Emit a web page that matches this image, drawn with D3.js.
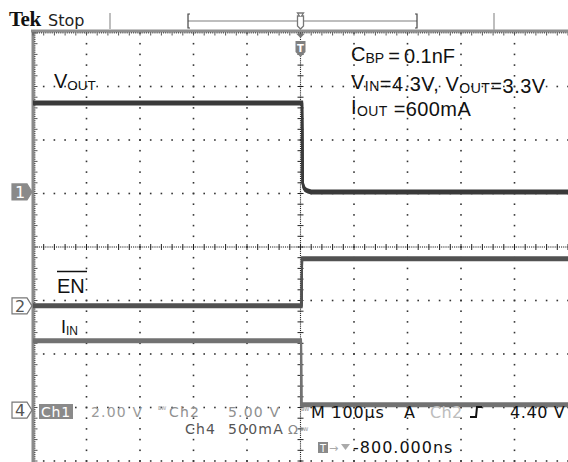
<!DOCTYPE html>
<html>
<head>
<meta charset="utf-8">
<script src="https://cdn.jsdelivr.net/npm/d3@7"></script>
<style>
  body { margin: 0; background: #fff; }
  svg { display: block; }
</style>
</head>
<body>
<script>
'use strict';

// scope settings (per division)
const timePerDiv = 100;        // µs
const ch1VoltsPerDiv = 2.0;    // V
const ch2VoltsPerDiv = 5.0;    // V
const ch4AmpsPerDiv = 0.5;     // A

// channel ground offsets in divisions from centre
const ch1Offset = 1.03;
const ch2Offset = -1.10;
const ch4Offset = -2.95;

// traces, time in µs
const voutTime = [-500, 3, 4, 6, 9, 14, 20, 500];
const voutVolts = [3.32, 3.32, 0.34, 0.17, 0.08, 0.03, 0, 0];

const enTime = [-500, 2, 3, 500];
const enVolts = [0, 0, 4.4, 4.4];

const iinTime = [-500, 1, 1.5, 500];
const iinAmps = [0.6, 0.6, 0, 0];

// annotation text: [text, isSubscript]
const noteLines = [
  [['C', 0], ['BP', 1], [' = 0.1nF', 0]],
  [['V', 0], ['IN', 1], ['=4.3V, V', 0], ['OUT', 1], ['=3.3V', 0]],
  [['I', 0], ['OUT', 1], [' =600mA', 0]]
];

(function() {
  const W = 568, H = 462;
  const X0 = 33, Y0 = 33, DIV = 53.5, NX = 10, NY = 8;

  const svg = d3.select('body').append('svg')
    .attr('width', W)
    .attr('height', H)
    .style('background', '#fff');

  const x = d3.scaleLinear()
    .domain([-NX / 2 * timePerDiv, NX / 2 * timePerDiv])
    .range([X0, X0 + NX * DIV]);

  // vertical position in divisions
  const yDiv = d3.scaleLinear()
    .domain([NY / 2, -NY / 2])
    .range([Y0, Y0 + NY * DIV]);

  const xDivPos = d => X0 + d * DIV;

  // ---------- graticule ----------
  const grid = svg.append('g');
  const dot = (cx, cy, s, c) => grid.append('rect')
    .attr('x', cx - s / 2).attr('y', cy - s / 2)
    .attr('width', s).attr('height', s).attr('fill', c);

  // ordinary dotted lines
  d3.range(1, NX).filter(i => i !== NX / 2).forEach(i => {
    d3.range(0, NY * 5 + 1).forEach(k => dot(xDivPos(i), Y0 + k * DIV / 5, 1.6, '#333'));
  });
  d3.range(1, NY + 1).filter(j => j !== NY / 2).forEach(j => {
    d3.range(0, NX * 5 + 1).forEach(k => dot(X0 + k * DIV / 5, Y0 + j * DIV, 1.6, '#333'));
  });

  // centre cross: dense dots + minor ticks
  const cx0 = xDivPos(NX / 2), cy0 = yDiv(0);
  d3.range(0, NX * 25 + 1).forEach(k => dot(X0 + k * DIV / 25, cy0, 1.1, '#222'));
  d3.range(0, NY * 25 + 1).forEach(k => dot(cx0, Y0 + k * DIV / 25, 1.1, '#222'));
  d3.range(0, NX * 5 + 1).forEach(k => grid.append('line')
    .attr('x1', X0 + k * DIV / 5).attr('x2', X0 + k * DIV / 5)
    .attr('y1', cy0 - 3).attr('y2', cy0 + 3)
    .attr('stroke', '#222').attr('stroke-width', 1));
  d3.range(0, NY * 5 + 1).forEach(k => grid.append('line')
    .attr('x1', cx0 - 3).attr('x2', cx0 + 3)
    .attr('y1', Y0 + k * DIV / 5).attr('y2', Y0 + k * DIV / 5)
    .attr('stroke', '#222').attr('stroke-width', 1));

  // border lines with ticks
  grid.append('line')
    .attr('x1', X0 - 2).attr('x2', W).attr('y1', Y0 - 2).attr('y2', Y0 - 2)
    .attr('stroke', '#8f8f8f').attr('stroke-width', 3);
  grid.append('line')
    .attr('x1', X0).attr('x2', X0).attr('y1', Y0 - 3).attr('y2', H)
    .attr('stroke', '#8a8a8a').attr('stroke-width', 3);
  d3.range(0, NX * 25 + 1).forEach(k => {
    const len = k % 5 === 0 ? 3.5 : 1.5;
    grid.append('line')
      .attr('x1', X0 + k * DIV / 25).attr('x2', X0 + k * DIV / 25)
      .attr('y1', Y0 - 1).attr('y2', Y0 - 1 + len)
      .attr('stroke', '#555').attr('stroke-width', 1);
  });
  d3.range(0, NY * 25 + 1).forEach(k => {
    const len = k % 5 === 0 ? 3.5 : 1.5;
    grid.append('line')
      .attr('x1', X0 + 1).attr('x2', X0 + 1 + len)
      .attr('y1', Y0 + k * DIV / 25).attr('y2', Y0 + k * DIV / 25)
      .attr('stroke', '#555').attr('stroke-width', 1);
  });

  // ---------- top status bar ----------
  svg.append('text')
    .attr('x', 9).attr('y', 26)
    .style('font', 'bold 21px "Liberation Serif"')
    .style('letter-spacing', '-0.5px')
    .attr('fill', '#111')
    .text('Tek');
  svg.append('text')
    .attr('x', 48).attr('y', 26)
    .style('font', '16px "DejaVu Sans"')
    .attr('fill', '#222')
    .text('Stop');

  const bar = svg.append('g').attr('stroke', '#a8a8a8').attr('fill', 'none');
  bar.append('line').attr('x1', 110).attr('x2', 110).attr('y1', 13).attr('y2', 29).attr('stroke-width', 1.5);
  bar.append('line').attr('x1', 494).attr('x2', 494).attr('y1', 13).attr('y2', 30).attr('stroke-width', 1.5);
  bar.append('line').attr('x1', 188).attr('x2', 417).attr('y1', 21).attr('y2', 21).attr('stroke-width', 1.5);
  svg.append('path').attr('d', 'M190,14 L188,14 L188,28 L190,28')
    .attr('stroke', '#444').attr('fill', 'none').attr('stroke-width', 1.2);
  svg.append('path').attr('d', 'M415,14 L417,14 L417,28 L415,28')
    .attr('stroke', '#444').attr('fill', 'none').attr('stroke-width', 1.2);

  // trigger position markers
  const trigX = x(0);
  svg.append('path')
    .attr('d', `M${trigX - 3},13 L${trigX + 3},13 L${trigX + 1},16 L${trigX + 3},16 L${trigX + 3},26 L${trigX},29 L${trigX - 3},26 L${trigX - 3},16 L${trigX - 1},16 Z`)
    .attr('fill', '#fff').attr('stroke', '#777').attr('stroke-width', 1.3);
  svg.append('path')
    .attr('d', `M${trigX - 4},34 L${trigX + 4},34 L${trigX},38 Z`)
    .attr('fill', '#777');
  svg.append('path')
    .attr('d', `M${trigX - 5},41 L${trigX + 5},41 L${trigX + 5},52 L${trigX},57 L${trigX - 5},52 Z`)
    .attr('fill', '#7f7f7f');
  svg.append('text')
    .attr('x', trigX).attr('y', 52).attr('text-anchor', 'middle')
    .style('font', 'bold 10px "DejaVu Sans"').attr('fill', '#fff')
    .text('T');

  // ---------- traces ----------
  // a scope trace is a thin beam smeared vertically by noise: draw the
  // line thin and repeat it with small vertical shifts, so flat parts get
  // thick while steep edges stay narrow
  const drawTrace = (times, vals, perDiv, offset, color, spread) => {
    const pts = times.map((t, i) => [x(t), yDiv(vals[i] / perDiv + offset)]);
    const g = svg.append('g');
    d3.range(-spread, spread + 0.01, 0.75).forEach(dy => {
      g.append('path')
        .attr('d', d3.line()(pts))
        .attr('transform', `translate(0,${dy})`)
        .attr('fill', 'none')
        .attr('stroke', color)
        .attr('stroke-width', 2);
    });
  };

  drawTrace(iinTime, iinAmps, ch4AmpsPerDiv, ch4Offset, '#727272', 1.5);
  drawTrace(enTime, enVolts, ch2VoltsPerDiv, ch2Offset, '#525252', 1.5);
  drawTrace(voutTime, voutVolts, ch1VoltsPerDiv, ch1Offset, '#3a3a3a', 1.5);

  // ---------- channel ground markers ----------
  const marker = (label, offset, filled) => {
    const cy = yDiv(offset);
    svg.append('path')
      .attr('d', `M12,${cy - 8} L27,${cy - 8} L32,${cy} L27,${cy + 8} L12,${cy + 8} Z`)
      .attr('fill', filled ? '#8a8a8a' : '#fff')
      .attr('stroke', filled ? '#8a8a8a' : '#777').attr('stroke-width', 1.2);
    svg.append('text')
      .attr('x', 20).attr('y', cy + 6).attr('text-anchor', 'middle')
      .style('font', '16px "DejaVu Sans"')
      .attr('fill', filled ? '#fff' : '#555')
      .text(label);
  };
  marker('1', ch1Offset, true);
  marker('2', ch2Offset, false);
  marker('4', ch4Offset - 0.1, false);

  // ---------- annotations ----------
  const richText = (parts, px, py, size, subSize, spacing, wordSpacing) => {
    const t = svg.append('text')
      .attr('x', px).attr('y', py)
      .style('font-family', '"Liberation Sans", Arial, sans-serif')
      .style('font-size', size + 'px')
      .style('letter-spacing', (spacing || 0) + 'px')
      .style('word-spacing', (wordSpacing || 0) + 'px')
      .attr('fill', '#111');
    parts.forEach(p => {
      t.append('tspan')
        .attr('dy', p[1] ? 2 : 0)
        .style('font-size', (p[1] ? subSize : size) + 'px')
        .text(p[0]);
      if (p[1]) t.append('tspan').attr('dy', -2).text('');
    });
    return t;
  };

  richText([['V', 0], ['OUT', 1]], 54, 88, 20, 13.5);
  richText(noteLines[0], 351, 61, 20, 14, 0, -1.5);
  richText(noteLines[1], 351, 89, 20, 14, 0.5);
  richText(noteLines[2], 351, 114, 20, 14, 0.4);
  richText([['EN', 0]], 57, 293, 20, 12);
  svg.append('line')
    .attr('x1', 57).attr('x2', 87).attr('y1', 271.5).attr('y2', 271.5)
    .attr('stroke', '#111').attr('stroke-width', 1.5);
  richText([['I', 0], ['IN', 1]], 61, 333, 18, 12);

  // ---------- bottom readout ----------
  const readout = (str, px, py, size, color, spacing) => svg.append('text')
    .attr('x', px).attr('y', py)
    .style('font', `${size}px "DejaVu Sans"`)
    .style('letter-spacing', (spacing || 0) + 'px')
    .attr('fill', color)
    .text(str);

  svg.append('rect').attr('x', 39).attr('y', 404).attr('width', 34).attr('height', 15).attr('fill', '#8a8a8a');
  readout('Ch1', 41, 416.5, 14, '#fff', 0.8);
  readout('2.00 V', 91, 417, 14, '#9a9a9a', 1.2);
  readout('BW', 158, 410, 5, '#9a9a9a');
  readout('Ch2', 169, 417, 14, '#8f8f8f', 1.2);
  readout('5.00 V', 228, 417, 14, '#8f8f8f', 1.2);
  readout('Ch4', 185, 434, 14, '#555', 1.2);
  readout('500mA', 228, 434, 14, '#555', 1.2);
  readout('Ω', 288, 434, 13, '#888');
  readout('BW', 300, 431, 5, '#888');

  readout('BW', 301, 411, 5, '#888');
  readout('M 100µs', 311, 418, 16, '#111', 0.8);
  readout('A', 404, 418, 16, '#111');
  readout('Ch2', 430, 418, 16, '#bdbdbd', 0.4);
  svg.append('path')
    .attr('d', 'M470,417 L476,417 L477,407 L482,407')
    .attr('fill', 'none').attr('stroke', '#111').attr('stroke-width', 2);
  readout('4.40 V', 510, 418, 16, '#111', 0.6);

  svg.append('rect').attr('x', 318).attr('y', 442).attr('width', 10).attr('height', 11).attr('fill', '#8a8a8a');
  readout('T', 320, 452, 10, '#fff');
  readout('→', 329, 452, 11, '#aaa');
  svg.append('path').attr('d', 'M341,444 L350,444 L345.5,450 Z').attr('fill', '#aaa');
  readout('-800.000ns', 353, 453, 16, '#111', 1);
})();
</script>
</body>
</html>
